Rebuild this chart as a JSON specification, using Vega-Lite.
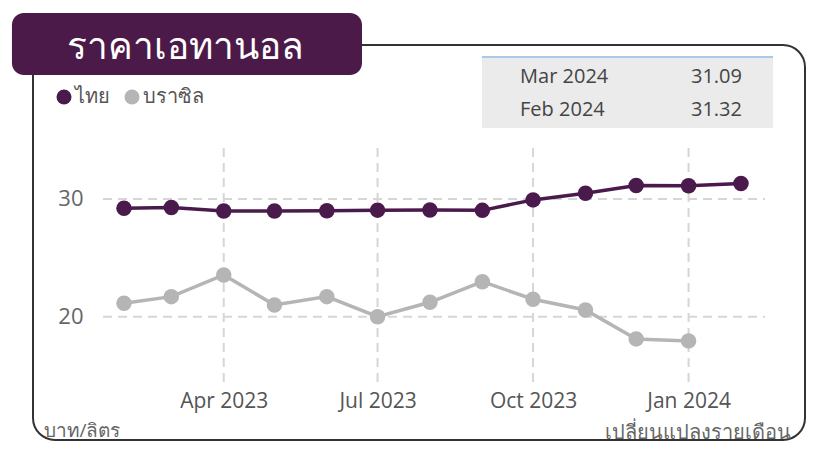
{
  "$schema": "https://vega.github.io/schema/vega-lite/v6.json",
  "width": 772,
  "height": 395,
  "autosize": {"type": "none"},
  "padding": {"left": 33, "top": 45, "right": 12, "bottom": 13},
  "background": "white",
  "config": {
    "view": {"stroke": "#333333", "strokeWidth": 2, "cornerRadius": 22},
    "font": "Open Sans"
  },
  "datasets": {
    "prices": [
      {"date": "2023-02-01", "country": "ไทย", "price": 29.21},
      {"date": "2023-03-01", "country": "ไทย", "price": 29.27},
      {"date": "2023-04-01", "country": "ไทย", "price": 28.97},
      {"date": "2023-05-01", "country": "ไทย", "price": 28.97},
      {"date": "2023-06-01", "country": "ไทย", "price": 29.0},
      {"date": "2023-07-01", "country": "ไทย", "price": 29.05},
      {"date": "2023-08-01", "country": "ไทย", "price": 29.06},
      {"date": "2023-09-01", "country": "ไทย", "price": 29.03},
      {"date": "2023-10-01", "country": "ไทย", "price": 29.92},
      {"date": "2023-11-01", "country": "ไทย", "price": 30.48},
      {"date": "2023-12-01", "country": "ไทย", "price": 31.14},
      {"date": "2024-01-01", "country": "ไทย", "price": 31.12},
      {"date": "2024-02-01", "country": "ไทย", "price": 31.32},
      {"date": "2023-02-01", "country": "บราซิล", "price": 21.14},
      {"date": "2023-03-01", "country": "บราซิล", "price": 21.7},
      {"date": "2023-04-01", "country": "บราซิล", "price": 23.54},
      {"date": "2023-05-01", "country": "บราซิล", "price": 20.99},
      {"date": "2023-06-01", "country": "บราซิล", "price": 21.7},
      {"date": "2023-07-01", "country": "บราซิล", "price": 20.0},
      {"date": "2023-08-01", "country": "บราซิล", "price": 21.22},
      {"date": "2023-09-01", "country": "บราซิล", "price": 22.97},
      {"date": "2023-10-01", "country": "บราซิล", "price": 21.48},
      {"date": "2023-11-01", "country": "บราซิล", "price": 20.57},
      {"date": "2023-12-01", "country": "บราซิล", "price": 18.11},
      {"date": "2024-01-01", "country": "บราซิล", "price": 17.94}
    ],
    "table": [
      {"row": 1, "month": "Mar 2024", "value": "31.09"},
      {"row": 2, "month": "Feb 2024", "value": "31.32"}
    ],
    "heading": [{"text": "ราคาเอทานอล"}],
    "gridx": [
      {"date": "2023-04-01"}, {"date": "2023-07-01"}, {"date": "2023-10-01"}, {"date": "2024-01-01"}
    ],
    "gridy": [{"price": 20}, {"price": 30}]
  },
  "layer": [
    {
      "data": {"name": "gridy"},
      "mark": {"type": "rule", "stroke": "#d6d6d6", "strokeWidth": 2, "strokeDash": [9, 6]},
      "encoding": {
        "y": {"field": "price", "type": "quantitative"},
        "x": {"datum": {"year": 2023, "month": 1, "date": 19, "hours": 14, "utc": true}, "type": "temporal"},
        "x2": {"datum": {"year": 2024, "month": 2, "date": 15, "hours": 5, "utc": true}}
      }
    },
    {
      "data": {"name": "gridx"},
      "mark": {"type": "rule", "stroke": "#d6d6d6", "strokeWidth": 2, "strokeDash": [9, 6]},
      "encoding": {
        "x": {"field": "date", "type": "temporal"},
        "y": {"datum": 34.33, "type": "quantitative"},
        "y2": {"datum": 14.37}
      }
    },
    {
      "data": {"name": "prices"},
      "mark": {"type": "line", "strokeWidth": 3.5},
      "encoding": {
        "x": {
          "field": "date", "type": "temporal",
          "scale": {
            "type": "utc", "nice": false,
            "domain": [
              {"year": 2022, "month": 12, "date": 9, "hours": 4, "utc": true},
              {"year": 2024, "month": 3, "date": 9, "hours": 21, "utc": true}
            ]
          },
          "axis": {
            "title": "เปลี่ยนแปลงรายเดือน",
            "offset": -50, "domain": false, "ticks": false, "grid": false,
            "labelPadding": 0, "labelFontSize": 21, "labelColor": "#555555",
            "labelExpr": "utcFormat(datum.value, '%b %Y')",
            "values": [
              {"year": 2023, "month": 4, "date": 1, "utc": true},
              {"year": 2023, "month": 7, "date": 1, "utc": true},
              {"year": 2023, "month": 10, "date": 1, "utc": true},
              {"year": 2024, "month": 1, "date": 1, "utc": true}
            ],
            "titleX": 757, "titleY": 42, "titleAlign": "right", "titleBaseline": "middle",
            "titleFontSize": 20, "titleFontWeight": "normal", "titleColor": "#666666"
          }
        },
        "y": {
          "field": "price", "type": "quantitative",
          "scale": {"domain": [9.52, 43.08], "nice": false, "zero": false},
          "axis": {
            "title": "บาท/ลิตร",
            "offset": -55, "domain": false, "ticks": false, "grid": false,
            "values": [20, 30], "labelPadding": 5, "labelFontSize": 22, "labelColor": "#666666",
            "titleAngle": 0, "titleX": -45, "titleY": 385, "titleAlign": "left", "titleBaseline": "middle",
            "titleFontSize": 19, "titleFontWeight": "normal", "titleColor": "#666666"
          }
        },
        "stroke": {
          "field": "country", "type": "nominal",
          "scale": {"domain": ["ไทย", "บราซิล"], "range": ["#4b1a4d", "#b5b5b5"]}
        }
      }
    },
    {
      "data": {"name": "prices"},
      "mark": {"type": "circle", "size": 240, "opacity": 1},
      "encoding": {
        "x": {"field": "date", "type": "temporal"},
        "y": {"field": "price", "type": "quantitative"},
        "color": {
          "field": "country", "type": "nominal",
          "scale": {"domain": ["ไทย", "บราซิล"], "range": ["#4b1a4d", "#b5b5b5"]},
          "legend": {
            "orient": "none", "legendX": 21, "legendY": 42, "direction": "horizontal",
            "title": null, "symbolType": "circle", "symbolSize": 225, "symbolOpacity": 1,
            "symbolStrokeWidth": 0,
            "labelFontSize": 20, "labelColor": "#555555", "columnPadding": 12, "labelOffset": 1
          }
        }
      }
    },
    {
      "data": {"name": "heading"},
      "mark": {"type": "rect", "fill": "#4b1a48", "cornerRadius": 12},
      "encoding": {
        "x": {"datum": {"year": 2022, "month": 11, "date": 26, "hours": 17, "utc": true}, "type": "temporal"},
        "x2": {"datum": {"year": 2023, "month": 6, "date": 21, "hours": 19, "utc": true}},
        "y": {"datum": 45.8, "type": "quantitative"},
        "y2": {"datum": 40.54}
      }
    },
    {
      "data": {"name": "heading"},
      "mark": {"type": "text", "color": "white", "fontSize": 37, "align": "left", "baseline": "middle"},
      "encoding": {
        "text": {"field": "text"},
        "x": {"datum": {"year": 2022, "month": 12, "date": 29, "hours": 0, "utc": true}, "type": "temporal"},
        "y": {"datum": 42.85, "type": "quantitative"}
      }
    },
    {
      "data": {"name": "heading"},
      "mark": {"type": "rect", "fill": "#ebebeb"},
      "encoding": {
        "x": {"datum": {"year": 2023, "month": 8, "date": 31, "hours": 19, "utc": true}, "type": "temporal"},
        "x2": {"datum": {"year": 2024, "month": 2, "date": 19, "hours": 22, "utc": true}},
        "y": {"datum": 42.06, "type": "quantitative"},
        "y2": {"datum": 36.03}
      }
    },
    {
      "data": {"name": "heading"},
      "mark": {"type": "rule", "stroke": "#a9c9e6", "strokeWidth": 2},
      "encoding": {
        "x": {"datum": {"year": 2023, "month": 8, "date": 31, "hours": 19, "utc": true}, "type": "temporal"},
        "x2": {"datum": {"year": 2024, "month": 2, "date": 19, "hours": 22, "utc": true}},
        "y": {"datum": 42.06, "type": "quantitative"}
      }
    },
    {
      "data": {"name": "table"},
      "transform": [{"filter": "datum.row == 1"}],
      "layer": [
        {
          "mark": {"type": "text", "color": "#444444", "fontSize": 20, "align": "left", "baseline": "middle"},
          "encoding": {
            "text": {"field": "month"},
            "x": {"datum": {"year": 2023, "month": 9, "date": 23, "hours": 7, "utc": true}, "type": "temporal"},
            "y": {"datum": 40.37, "type": "quantitative"}
          }
        },
        {
          "mark": {"type": "text", "color": "#444444", "fontSize": 20, "align": "right", "baseline": "middle"},
          "encoding": {
            "text": {"field": "value"},
            "x": {"datum": {"year": 2024, "month": 2, "date": 1, "hours": 14, "utc": true}, "type": "temporal"},
            "y": {"datum": 40.37, "type": "quantitative"}
          }
        }
      ]
    },
    {
      "data": {"name": "table"},
      "transform": [{"filter": "datum.row == 2"}],
      "layer": [
        {
          "mark": {"type": "text", "color": "#444444", "fontSize": 20, "align": "left", "baseline": "middle"},
          "encoding": {
            "text": {"field": "month"},
            "x": {"datum": {"year": 2023, "month": 9, "date": 23, "hours": 7, "utc": true}, "type": "temporal"},
            "y": {"datum": 37.56, "type": "quantitative"}
          }
        },
        {
          "mark": {"type": "text", "color": "#444444", "fontSize": 20, "align": "right", "baseline": "middle"},
          "encoding": {
            "text": {"field": "value"},
            "x": {"datum": {"year": 2024, "month": 2, "date": 1, "hours": 14, "utc": true}, "type": "temporal"},
            "y": {"datum": 37.56, "type": "quantitative"}
          }
        }
      ]
    }
  ]
}
